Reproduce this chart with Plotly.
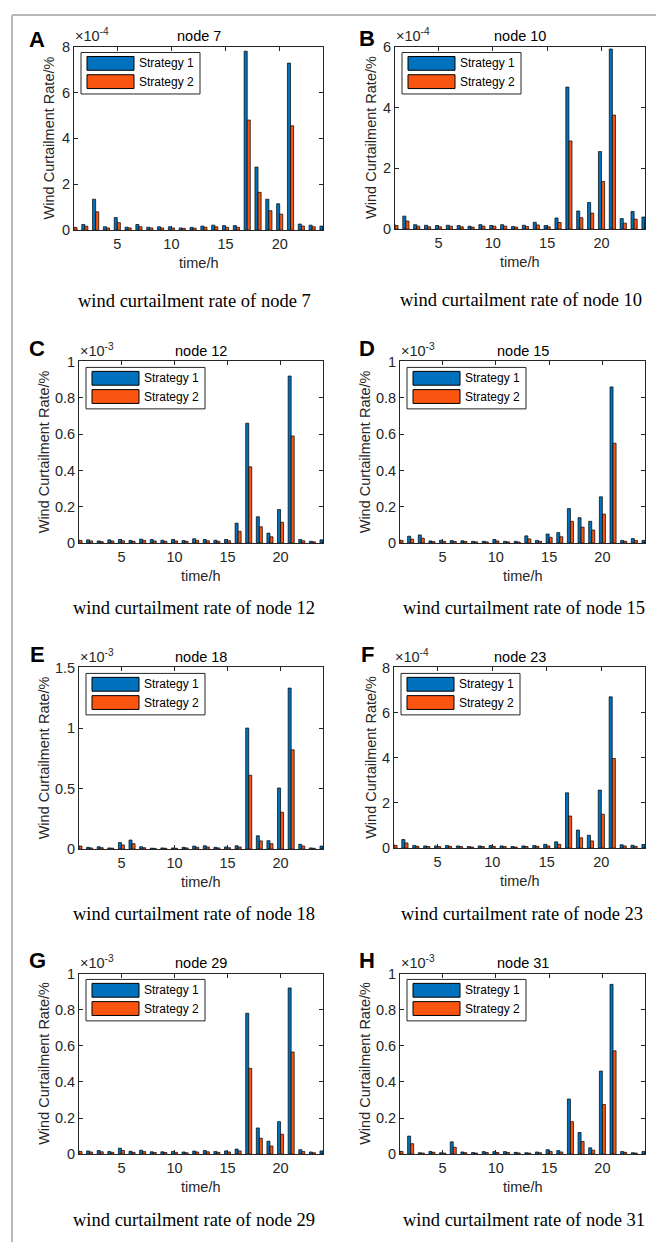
import plotly.graph_objects as go

hours = list(range(1, 25))
series_names = ["Strategy 1", "Strategy 2"]
nodes = [7, 10, 12, 15, 18, 23, 29, 31]
letters = ["A", "B", "C", "D", "E", "F", "G", "H"]
exponents = [-4, -4, -3, -3, -3, -4, -3, -3]
y_max = [8, 6, 1, 1, 1.5, 8, 1, 1]
y_ticks = [
    [0, 2, 4, 6, 8],
    [0, 2, 4, 6],
    [0, 0.2, 0.4, 0.6, 0.8, 1],
    [0, 0.2, 0.4, 0.6, 0.8, 1],
    [0, 0.5, 1, 1.5],
    [0, 2, 4, 6, 8],
    [0, 0.2, 0.4, 0.6, 0.8, 1],
    [0, 0.2, 0.4, 0.6, 0.8, 1],
]
x_ticks = [5, 10, 15, 20]

# values in units of 10^exponent (as printed on each panel)
node7_s1 = [0.15, 0.25, 1.35, 0.15, 0.55, 0.13, 0.25, 0.13, 0.15, 0.15, 0.10, 0.12,
            0.18, 0.22, 0.20, 0.20, 7.80, 2.75, 1.35, 1.15, 7.28, 0.27, 0.22, 0.18]
node7_s2 = [0.12, 0.17, 0.80, 0.10, 0.33, 0.10, 0.15, 0.10, 0.10, 0.10, 0.08, 0.09,
            0.13, 0.15, 0.13, 0.13, 4.80, 1.65, 0.85, 0.70, 4.55, 0.18, 0.15, 0.12]

node10_s1 = [0.18, 0.43, 0.15, 0.13, 0.12, 0.13, 0.12, 0.10, 0.15, 0.12, 0.15, 0.09,
             0.13, 0.23, 0.12, 0.37, 4.67, 0.60, 0.88, 2.55, 5.92, 0.35, 0.58, 0.40]
node10_s2 = [0.12, 0.27, 0.10, 0.08, 0.08, 0.10, 0.08, 0.07, 0.10, 0.10, 0.10, 0.07,
             0.09, 0.14, 0.08, 0.22, 2.90, 0.38, 0.53, 1.57, 3.75, 0.20, 0.33, 0.25]

node12_s1 = [0.020, 0.018, 0.012, 0.018, 0.020, 0.015, 0.022, 0.020, 0.016, 0.020, 0.014, 0.024,
             0.020, 0.016, 0.020, 0.110, 0.660, 0.145, 0.055, 0.185, 0.920, 0.020, 0.010, 0.018]
node12_s2 = [0.015, 0.012, 0.008, 0.012, 0.013, 0.010, 0.015, 0.012, 0.010, 0.012, 0.010, 0.015,
             0.013, 0.010, 0.013, 0.065, 0.420, 0.090, 0.035, 0.115, 0.590, 0.013, 0.007, 0.012]

node15_s1 = [0.020, 0.038, 0.045, 0.012, 0.016, 0.014, 0.013, 0.010, 0.010, 0.020, 0.010, 0.010,
             0.040, 0.015, 0.050, 0.058, 0.190, 0.140, 0.120, 0.255, 0.860, 0.015, 0.025, 0.015]
node15_s2 = [0.015, 0.022, 0.027, 0.008, 0.010, 0.009, 0.009, 0.007, 0.007, 0.012, 0.007, 0.006,
             0.023, 0.010, 0.032, 0.035, 0.120, 0.088, 0.072, 0.160, 0.550, 0.010, 0.015, 0.010]

node18_s1 = [0.030, 0.015, 0.020, 0.010, 0.055, 0.075, 0.020, 0.008, 0.010, 0.010, 0.015, 0.025,
             0.028, 0.015, 0.018, 0.028, 1.000, 0.110, 0.070, 0.505, 1.330, 0.040, 0.010, 0.025]
node18_s2 = [0.025, 0.010, 0.012, 0.008, 0.035, 0.045, 0.012, 0.006, 0.007, 0.007, 0.010, 0.015,
             0.018, 0.010, 0.012, 0.018, 0.610, 0.068, 0.045, 0.305, 0.820, 0.025, 0.007, 0.015]

node23_s1 = [0.18, 0.38, 0.12, 0.10, 0.10, 0.12, 0.10, 0.07, 0.10, 0.12, 0.10, 0.07,
             0.10, 0.12, 0.17, 0.28, 2.45, 0.80, 0.57, 2.57, 6.70, 0.15, 0.13, 0.16]
node23_s2 = [0.12, 0.23, 0.08, 0.07, 0.07, 0.08, 0.07, 0.05, 0.07, 0.08, 0.07, 0.05,
             0.07, 0.08, 0.10, 0.17, 1.42, 0.46, 0.32, 1.50, 3.97, 0.10, 0.08, 0.10]

node29_s1 = [0.020, 0.018, 0.020, 0.015, 0.033, 0.016, 0.022, 0.013, 0.013, 0.015, 0.012, 0.017,
             0.020, 0.015, 0.018, 0.028, 0.780, 0.145, 0.072, 0.180, 0.920, 0.025, 0.012, 0.018]
node29_s2 = [0.015, 0.012, 0.013, 0.010, 0.020, 0.010, 0.014, 0.009, 0.009, 0.010, 0.008, 0.012,
             0.013, 0.010, 0.012, 0.018, 0.475, 0.088, 0.045, 0.110, 0.565, 0.015, 0.008, 0.012]

node31_s1 = [0.020, 0.100, 0.008, 0.015, 0.008, 0.068, 0.012, 0.009, 0.014, 0.014, 0.014, 0.010,
             0.008, 0.012, 0.025, 0.020, 0.305, 0.120, 0.035, 0.460, 0.940, 0.015, 0.008, 0.015]
node31_s2 = [0.015, 0.058, 0.006, 0.010, 0.006, 0.038, 0.008, 0.006, 0.009, 0.009, 0.009, 0.007,
             0.006, 0.008, 0.015, 0.012, 0.180, 0.070, 0.022, 0.275, 0.572, 0.010, 0.006, 0.010]

strategy1 = [node7_s1, node10_s1, node12_s1, node15_s1, node18_s1, node23_s1, node29_s1, node31_s1]
strategy2 = [node7_s2, node10_s2, node12_s2, node15_s2, node18_s2, node23_s2, node29_s2, node31_s2]

# the page body has an 8px margin, so the figure is drawn 8px in from the window corner
OFF = 8
W, H = 664 - OFF, 1250 - OFF
BLUE = "#0072BD"
ORANGE = "#FA5510"
AX = "#262626"
SANS = "Liberation Sans, Arial, sans-serif"
SERIF = "Liberation Serif, Times New Roman, serif"
FS = 14.5


def fx(p):
    return (p - OFF) / W


def fy(p):
    return 1 - (p - OFF) / H


def note(text, x, y, size=FS, color=AX, family=SANS, **kw):
    d = dict(text=text, x=fx(x), y=fy(y), xref="paper", yref="paper", showarrow=False,
             xanchor="center", yanchor="middle", font=dict(family=family, size=size, color=color))
    d.update(kw)
    return d


# plot boxes in window pixels: left, right, top, bottom
boxes = [(74, 323, 39, 225), (395, 645, 39, 224), (79, 323, 358, 542), (400, 645, 358, 542),
         (79, 323, 668, 852), (394, 645, 668, 851), (79, 323, 978, 1161), (400, 645, 978, 1161)]
letter_pos = [(37, 32), (367, 31), (37, 345), (367, 345), (37, 655), (367, 655), (37, 965), (367, 965)]
ytitle_x = [49, 371, 44, 365, 44, 371, 44, 365]
caption_pos = [(195, 297), (521, 296), (194, 608), (524, 608), (194, 918), (522, 918), (194, 1228), (524, 1228)]

fig = go.Figure()
shapes = []
annotations = []
layout = {}

for i in range(8):
    sfx = "" if i == 0 else str(i + 1)
    xa, ya = "x" + sfx, "y" + sfx
    left, right, top, bottom = boxes[i]

    fig.add_trace(go.Bar(x=hours, y=strategy1[i], name=series_names[0], xaxis=xa, yaxis=ya,
                         marker=dict(color=BLUE, line=dict(color="black", width=0.7)), showlegend=False))
    fig.add_trace(go.Bar(x=hours, y=strategy2[i], name=series_names[1], xaxis=xa, yaxis=ya,
                         marker=dict(color=ORANGE, line=dict(color="black", width=0.7)), showlegend=False))

    common = dict(showline=True, linecolor=AX, linewidth=1, mirror="ticks", ticks="inside",
                  ticklen=4, tickcolor=AX, tickwidth=1, showgrid=False, zeroline=False,
                  tickfont=dict(family=SANS, size=FS, color=AX))
    layout["xaxis" + sfx] = dict(common, domain=[fx(left), fx(right)], anchor=ya,
                                 range=[1, 24], tickvals=x_ticks)
    layout["yaxis" + sfx] = dict(common, domain=[fy(bottom), fy(top)], anchor=xa,
                                 range=[0, y_max[i]], tickvals=y_ticks[i])

    lx, ly = letter_pos[i]
    annotations.append(note("<b>%s</b>" % letters[i], lx, ly, size=22, color="black"))
    annotations.append(note("node %d" % nodes[i], (left + right) / 2, top - 11, color="black"))
    annotations.append(note("\u00d710<sup>%d</sup>" % exponents[i], left - 1, top - 1,
                            xanchor="left", yanchor="bottom"))
    annotations.append(note("time/h", (left + right) / 2, bottom + 33))
    annotations.append(note("Wind Curtailment Rate/%", ytitle_x[i], (top + bottom) / 2, textangle=-90))
    cx, cy = caption_pos[i]
    annotations.append(note("wind curtailment rate of node %d" % nodes[i], cx, cy,
                            size=18.5, color="black", family=SERIF))

    # legend box drawn like the MATLAB one (wide swatches)
    bx0, by0 = left + 7, top + 6
    shapes.append(dict(type="rect", xref="paper", yref="paper", x0=fx(bx0), x1=fx(bx0 + 119),
                       y0=fy(by0), y1=fy(by0 + 42), line=dict(color=AX, width=1), fillcolor="white"))
    for k, col in enumerate([BLUE, ORANGE]):
        sy = by0 + 4 + k * 18.5
        shapes.append(dict(type="rect", xref="paper", yref="paper", x0=fx(bx0 + 6), x1=fx(bx0 + 53),
                           y0=fy(sy), y1=fy(sy + 14), line=dict(color="black", width=1), fillcolor=col))
        annotations.append(note(series_names[k], bx0 + 56, sy + 7, size=12, color="black", xanchor="left"))

# outer grey frame
frame = "#b8b8b8"
for x0, y0, x1, y1 in [(12, 7, 12, 1250), (12, 7, 660, 7), (660, 7, 660, 1250)]:
    shapes.append(dict(type="line", xref="paper", yref="paper", x0=fx(x0), y0=fy(y0), x1=fx(x1), y1=fy(y1),
                       line=dict(color=frame, width=2)))

fig.update_layout(
    **layout,
    width=W, height=H,
    margin=dict(l=0, r=0, t=0, b=0),
    paper_bgcolor="white", plot_bgcolor="white",
    barmode="group", bargap=0.43, bargroupgap=0,
    shapes=shapes, annotations=annotations,
    font=dict(family=SANS),
)

fig.write_html("out.html")
